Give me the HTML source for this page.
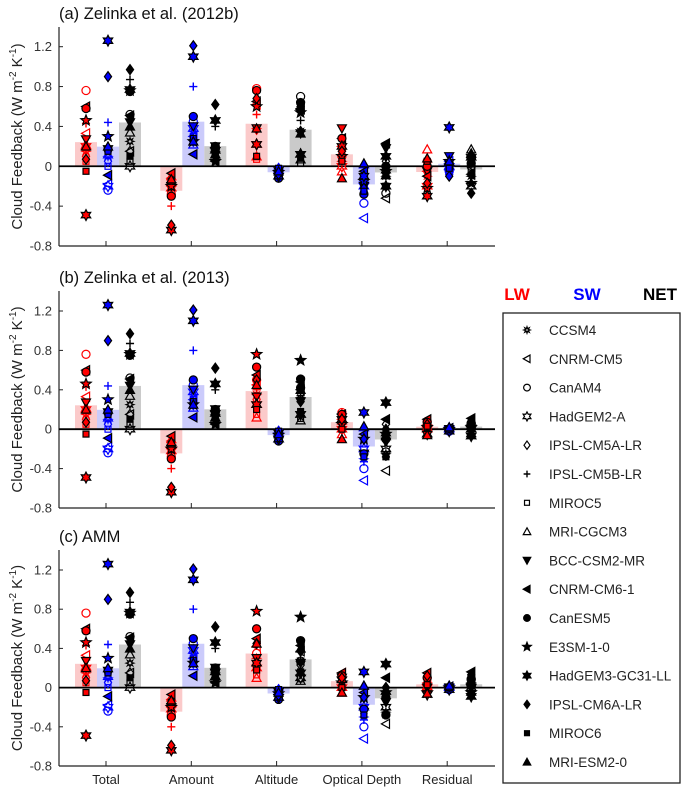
<!DOCTYPE html>
<html><head><meta charset="utf-8">
<style>
body{margin:0;background:#fff;}
svg{display:block;font-family:"Liberation Sans",Arial,sans-serif;}
</style></head>
<body>
<svg id="fig" width="685" height="795" viewBox="0 0 685 795" xmlns="http://www.w3.org/2000/svg"></svg>
<script>
// ---- data ----
const categories = ["Total","Amount","Altitude","Optical Depth","Residual"];
const models = ["CCSM4","CNRM-CM5","CanAM4","HadGEM2-A","IPSL-CM5A-LR","IPSL-CM5B-LR","MIROC5","MRI-CGCM3","BCC-CSM2-MR","CNRM-CM6-1","CanESM5","E3SM-1-0","HadGEM3-GC31-LL","IPSL-CM6A-LR","MIROC6","MRI-ESM2-0"];
const markers = ["ast","ltri","circ","hex","diam","plus","sq","utri","dtri","ltri","circ","pent","hex","diam","sq","utri"];
const yTicks = [-0.8,-0.4,0,0.4,0.8,1.2];
const yTickLabels = ["-0.8","-0.4","0","0.4","0.8","1.2"];
const panelTitles = ["(a) Zelinka et al. (2012b)","(b) Zelinka et al. (2013)","(c) AMM"];

const totalLW = [0.15,0.33,0.76,0.2,0.1,0.43,0.05,0.22,0.27,0.6,0.58,0.46,-0.49,0.07,-0.05,0.2];
const totalSW = [0.1,-0.18,-0.24,-0.2,0.05,0.44,0.0,0.12,0.17,-0.09,0.17,0.3,1.26,0.9,0.15,0.2];
const amountLW = [-0.2,-0.12,-0.28,-0.22,-0.15,-0.4,-0.18,-0.1,-0.2,-0.07,-0.3,-0.2,-0.64,-0.59,-0.15,-0.13];
const amountSW = [0.35,0.3,0.45,0.38,0.25,0.8,0.3,0.22,0.4,0.12,0.5,0.25,1.1,1.21,0.28,0.25];
const altSW = [-0.03,-0.05,-0.08,-0.1,-0.02,-0.06,-0.04,-0.03,-0.05,-0.07,-0.12,-0.06,-0.1,-0.08,-0.02,-0.05];

const altLW_a = [0.38,0.62,0.78,0.22,0.37,0.52,0.07,0.1,0.38,0.65,0.76,0.6,0.22,0.68,0.1,0.38];
const odLW_a = [0.05,0.2,0.1,0,0.15,0.05,0.1,-0.05,0.38,0.28,0.28,0.1,0.2,0.15,0.05,-0.12];
const odSW_a = [-0.15,-0.52,-0.37,-0.2,-0.1,-0.25,-0.12,0.02,-0.2,-0.05,-0.28,-0.15,-0.1,-0.22,-0.25,0.03];
const resLW_a = [-0.1,-0.05,0.05,-0.2,0,-0.1,0.02,0.17,-0.05,-0.1,0,-0.22,-0.3,-0.17,0.05,0.08];
const resSW_a = [0,0.05,-0.05,0,-0.08,0.02,-0.05,0.0,0.1,0.02,0.03,0.05,0.39,-0.1,-0.02,0.05];

const altLW_b = [0.35,0.45,0.5,0.25,0.3,0.4,0.15,0.12,0.33,0.55,0.63,0.76,0.25,0.5,0.2,0.45];
const odLW_b = [0.05,0.1,0.17,0,0.15,0.05,0.1,-0.05,0.12,0.15,0.15,0.05,0.1,0.1,0.0,-0.1];
const odSW_b = [-0.3,-0.52,-0.4,-0.2,-0.1,-0.33,-0.15,0.02,-0.25,-0.05,-0.25,-0.1,0.17,-0.1,-0.28,0.03];
const resLW_b = [0.05,0.02,0.08,0,0.03,0,0.05,0.02,0.0,0.1,0.07,0.02,-0.05,0.05,0.03,-0.06];
const resSW_b = [0,0.01,-0.02,0,0,-0.01,0,0.02,0,0.01,-0.01,0,-0.02,0.01,0,0.02];

const altLW_c = [0.3,0.42,0.35,0.2,0.25,0.3,0.13,0.1,0.3,0.5,0.6,0.78,0.25,0.45,0.18,0.45];
const odLW_c = [0.05,0.15,0.12,0,0.1,0.05,0.08,-0.05,0.1,0.15,0.12,0.05,0.08,0.1,0,-0.05];
const odSW_c = [-0.3,-0.52,-0.4,-0.2,-0.1,-0.33,-0.15,0.02,-0.25,-0.05,-0.22,-0.1,0.16,-0.1,-0.28,0.02];
const resLW_c = [0.05,0.03,0.1,0,0.05,0.0,0.06,0.02,0.0,0.15,0.1,-0.05,-0.07,0.12,0.03,-0.06];
const resSW_c = [0,0.01,-0.02,0,0,-0.01,0,0.02,0,0.01,-0.01,0,-0.02,0.01,0,0.02];

const panelLW = [[totalLW,amountLW,altLW_a,odLW_a,resLW_a],[totalLW,amountLW,altLW_b,odLW_b,resLW_b],[totalLW,amountLW,altLW_c,odLW_c,resLW_c]];
const panelSW = [[totalSW,amountSW,altSW,odSW_a,resSW_a],[totalSW,amountSW,altSW,odSW_b,resSW_b],[totalSW,amountSW,altSW,odSW_c,resSW_c]];

// ---- layout ----
const NS="http://www.w3.org/2000/svg";
const svg=document.getElementById('fig');
const panels=[{top:27,bottom:246,y12:46.7},{top:291,bottom:508,y12:311},{top:550,bottom:766,y12:570}];
const axL=59, axR=495, cat0=106, catStep=85.3;
function mk(tag,attrs,parent){const e=document.createElementNS(NS,tag);for(const k in attrs)e.setAttribute(k,attrs[k]);(parent||svg).appendChild(e);return e;}
function mean(a){return a.reduce((s,v)=>s+v,0)/a.length;}

function drawMarker(parent,type,cx,cy,fill,stroke,s){
  const g=mk('g',{transform:`translate(${cx.toFixed(1)},${cy.toFixed(1)}) scale(${s})`},parent);
  const sw=1.2/s;
  if(type==="circ"){mk('circle',{cx:0,cy:0,r:4.5,fill:fill,stroke:stroke,'stroke-width':sw},g);}
  else if(type==="sq"){mk('rect',{x:-3.3,y:-3.3,width:6.6,height:6.6,fill:fill,stroke:stroke,'stroke-width':sw},g);}
  else if(type==="plus"){mk('path',{d:`M-4.5,0H4.5M0,-4.5V4.5`,stroke:stroke,'stroke-width':1.4/s,fill:'none'},g);}
  else {
    let pts=[];
    if(type==="diam")pts=[[0,-5.5],[4,0],[0,5.5],[-4,0]];
    else if(type==="utri")pts=[[0,-5],[5,4],[-5,4]];
    else if(type==="dtri")pts=[[0,5],[5,-4],[-5,-4]];
    else if(type==="ltri")pts=[[-5,0],[4,-5],[4,5]];
    else {
      const n=type==="pent"?5:(type==="hex"?6:8);const ro=type==="ast"?4.2:6,ri=type==="ast"?2:(type==="pent"?2.6:3.3);
      for(let i=0;i<2*n;i++){const a=-Math.PI/2+i*Math.PI/n;const rr=i%2?ri:ro;pts.push([rr*Math.cos(a),rr*Math.sin(a)]);}
    }
    mk('polygon',{points:pts.map(p=>p[0].toFixed(2)+','+p[1].toFixed(2)).join(' '),fill:fill,stroke:stroke,'stroke-width':sw},g);
  }
  return g;
}

panels.forEach((P,pi)=>{
  const scale=(P.bottom-P.y12)/2.0;
  const y=v=>P.y12-(v-1.2)*scale;
  const x=i=>cat0+i*catStep;
  const g=mk('g',{});
  
  
  const t=mk('text',{x:axL,y:P.top-8,'font-size':16.5,fill:'#111'},g);t.textContent=panelTitles[pi];
  
  
  const cy=(P.top+P.bottom)/2;
  const yt=mk('text',{x:0,y:0,'font-size':15,fill:'#222','text-anchor':'middle',transform:`translate(22,${cy}) rotate(-90)`},g);
  yt.innerHTML='Cloud Feedback (W m<tspan dy="-6" font-size="10">-2</tspan><tspan dy="6"> K</tspan><tspan dy="-6" font-size="10">-1</tspan><tspan dy="6">)</tspan>';
  
  
  yTicks.forEach((v,k)=>{
    const yy=y(v);
    mk('line',{x1:axL,x2:axL+4,y1:yy,y2:yy,stroke:'#222','stroke-width':1},g);
    const tl=mk('text',{x:axL-7,y:yy+4.5,'font-size':13,fill:'#333','text-anchor':'end'},g);
    tl.textContent=yTickLabels[k];
    
    
  });
  const comps=[{col:'#ff0000',bar:'#fbcaca',off:-20,name:'lw'},{col:'#0000ff',bar:'#cbcbfb',off:2,name:'sw'},{col:'#000',bar:'#cacaca',off:24,name:'net'}];
  categories.forEach((c,ci)=>{
    const lw=panelLW[pi][ci], sw=panelSW[pi][ci];
    const net=lw.map((v,m)=>v+sw[m]);
    [lw,sw,net].forEach((arr,k)=>{
      const m=mean(arr);const cx=x(ci)+comps[k].off;
      const b=mk('rect',{x:cx-11,width:22,y:Math.min(y(m),y(0)),height:Math.abs(y(m)-y(0)),fill:comps[k].bar},g);
      
      
    });
  });
  mk('line',{x1:axL,x2:axL,y1:P.top,y2:P.bottom,stroke:'#222','stroke-width':1.2},g);
  mk('line',{x1:axL,x2:axR,y1:P.bottom,y2:P.bottom,stroke:'#222','stroke-width':1.2},g);
  categories.forEach((c,ci)=>{mk('line',{x1:x(ci),x2:x(ci),y1:P.bottom,y2:P.bottom-5,stroke:'#222','stroke-width':1},g);});
  const zl=mk('line',{x1:axL,x2:axR,y1:y(0),y2:y(0),stroke:'#000','stroke-width':1.8},g);
  
  
  categories.forEach((c,ci)=>{
    const lw=panelLW[pi][ci], sw=panelSW[pi][ci];
    const net=lw.map((v,m)=>v+sw[m]);
    [lw,sw,net].forEach((arr,k)=>{
      const cx=x(ci)+comps[k].off, col=comps[k].col;
      arr.forEach((v,m)=>{
        const cmip6=m>=8;
        const e=drawMarker(g,markers[m],cx,y(v),cmip6?col:'none',cmip6?'#000':col,0.9);
        
        
      });
    });
  });
  if(pi===2){
    categories.forEach((c,ci)=>{
      const tl=mk('text',{x:x(ci),y:P.bottom+18,'font-size':13,fill:'#222','text-anchor':'middle'},g);
      tl.textContent=c;
      
      
    });
  }
});

// ---- legend ----
const lg=mk('g',{});


[["LW","#ff0000",517],["SW","#0000ff",587],["NET","#000",660]].forEach(h=>{
  const t=mk('text',{x:h[2],y:300,'font-size':17,'font-weight':'bold',fill:h[1],'text-anchor':'middle'},lg);t.textContent=h[0];
  
  
});
mk('rect',{x:503,y:313,width:177,height:470,fill:'none',stroke:'#222','stroke-width':1.3},lg);
models.forEach((m,i)=>{
  const yy=330+i*28.8;
  const cmip6=i>=8;
  drawMarker(lg,markers[i],527,yy,cmip6?'#000':'none','#000',0.75);
  const t=mk('text',{x:549,y:yy+5,'font-size':13.5,fill:'#222'},lg);t.textContent=m;
  
  
});
</script>
</body></html>
